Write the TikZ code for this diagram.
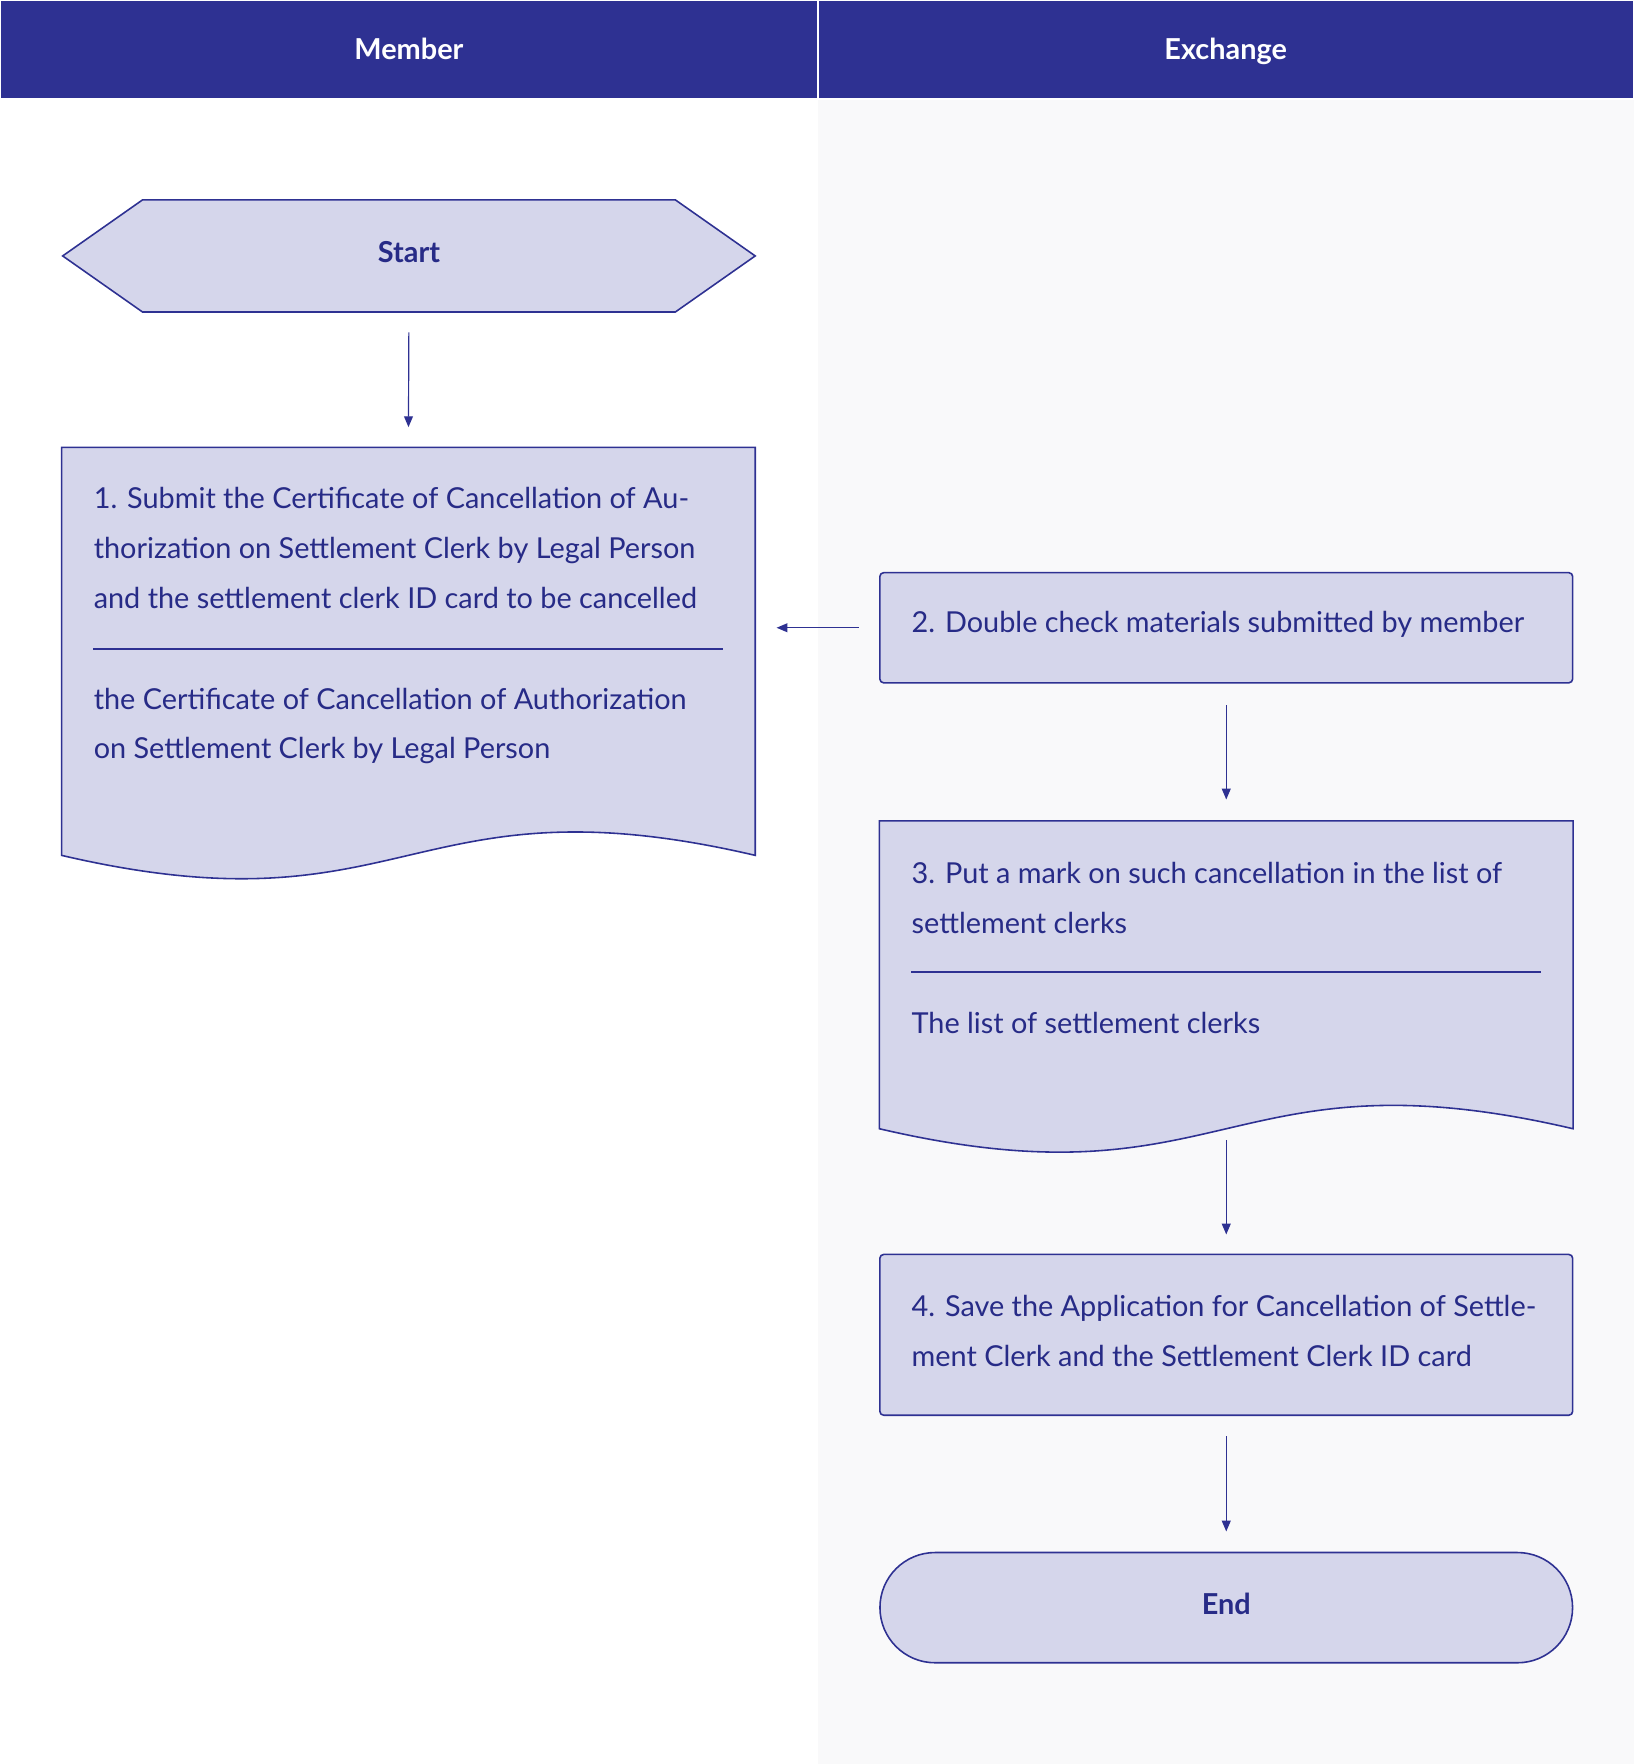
\documentclass[tikz,border=0pt]{standalone}
\usepackage{fontspec}
\setmainfont{Lato}
\usetikzlibrary{arrows.meta,calc,shapes.misc}
\definecolor{fcnavy}{HTML}{2E3192}
\definecolor{fcfill}{HTML}{D5D6EB}
\definecolor{fctext}{HTML}{272B87}
\definecolor{fcgrey}{HTML}{F9F9FA}

\begin{document}
\begin{tikzpicture}[x=0.02cm, y=-0.02cm,
    every node/.style={font=\fontsize{14.6}{25.2}\selectfont, text=fctext},
    lanehead/.style={fill=fcnavy, draw=white, line width=0.6pt, minimum height=1.76cm, text height=10pt, text depth=0pt, text=white, font=\fontsize{14.6}{17}\selectfont\bfseries},
    stepbox/.style={rectangle, draw=fcnavy, fill=fcfill, line width=0.8pt, minimum width=12.32cm, rounded corners=2pt},
    doctext/.style={anchor=north west, inner sep=0pt, align=left},
    fcarrow/.style={-{Triangle[length=5.5pt,width=4.5pt]}, draw=fcnavy, line width=0.6pt}]
    \useasboundingbox (0,0) rectangle (1452,1568);

    % Lanes
    \fill[fcgrey] (727,88) rectangle (1452,1568);
    \node[lanehead, minimum width=14.54cm] (hmember) at (363.5,44) {Member};
    \node[lanehead, minimum width=14.50cm] (hexchange) at (1089.5,44) {Exchange};

    % Start
    \node[minimum width=12.3cm, minimum height=1.98cm] (start) at (363.5,227.5) {};
    \filldraw[draw=fcnavy, fill=fcfill, line width=0.8pt] (start.west) -- ($(start.north west)+(71,0)$) -- ($(start.north east)+(-71,0)$) -- (start.east) -- ($(start.south east)+(-71,0)$) -- ($(start.south west)+(71,0)$) -- cycle;
    \node[font=\fontsize{14.6}{17}\selectfont\bfseries] (starttext) at ($(start.center)+(0,-3)$) {Start};

    % Step 1 (document)
    \node[minimum width=12.32cm, minimum height=7.24cm, inner sep=0pt] (box1) at (363,579) {};
    \filldraw[draw=fcnavy, fill=fcfill, line width=0.8pt] (box1.south west) -- (box1.north west) -- (box1.north east) -- (box1.south east)
        .. controls ($(box1.south)+(0,-72)$) and ($(box1.south)+(0,72)$) .. (box1.south west) -- cycle;
    \node[doctext] (t1a) at (83,433) {1. Submit the Certificate of Cancellation of Au-\\thorization on Settlement Clerk by Legal Person\\and the settlement clerk ID card to be cancelled};
    \draw[fcnavy, line width=0.7pt] (83,577) -- (643,577);
    \node[doctext] (t1b) at (83,611) {the Certificate of Cancellation of Authorization\\on Settlement Clerk by Legal Person};

    % Step 2
    \node[stepbox, minimum height=1.96cm] (box2) at (1090,558) {};
    \node[anchor=west, inner sep=0pt] (t2) at (810,555) {2. Double check materials submitted by member};

    % Step 3 (document)
    \node[minimum width=12.32cm, minimum height=5.46cm, inner sep=0pt] (box3) at (1090,866.5) {};
    \filldraw[draw=fcnavy, fill=fcfill, line width=0.8pt] (box3.south west) -- (box3.north west) -- (box3.north east) -- (box3.south east)
        .. controls ($(box3.south)+(0,-72)$) and ($(box3.south)+(0,72)$) .. (box3.south west) -- cycle;
    \node[doctext] (t3a) at (810,766) {3. Put a mark on such cancellation in the list of\\settlement clerks};
    \draw[fcnavy, line width=0.7pt] (810,864) -- (1370,864);
    \node[doctext] (t3b) at (810,899) {The list of settlement clerks};

    % Step 4
    \node[stepbox, minimum height=2.86cm] (box4) at (1090,1186.5) {};
    \node[doctext] (t4) at (810,1151) {4. Save the Application for Cancellation of Settle-\\ment Clerk and the Settlement Clerk ID card};

    % End
    \node[rounded rectangle, draw=fcnavy, fill=fcfill, line width=0.8pt, minimum width=12.55cm, minimum height=1.96cm] (end) at (1090,1429) {};
    \node[font=\fontsize{14.6}{17}\selectfont\bfseries] (endtext) at ($(end.center)+(0,-3)$) {End};

    % Arrows
    \draw[fcarrow, shorten <=0.36cm, shorten >=0.36cm] (start.south) -- (box1.north);
    \draw[fcarrow, shorten <=0.36cm, shorten >=0.38cm] (box2.west) -- (box1.east |- box2.west);
    \draw[fcarrow, shorten <=0.38cm, shorten >=0.38cm] (box2.south) -- (box3.north);
    \draw[fcarrow, shorten <=0.2cm, shorten >=0.34cm] (box3.south) -- (box4.north);
    \draw[fcarrow, shorten <=0.36cm, shorten >=0.36cm] (box4.south) -- (end.north);
\end{tikzpicture}
\end{document}
